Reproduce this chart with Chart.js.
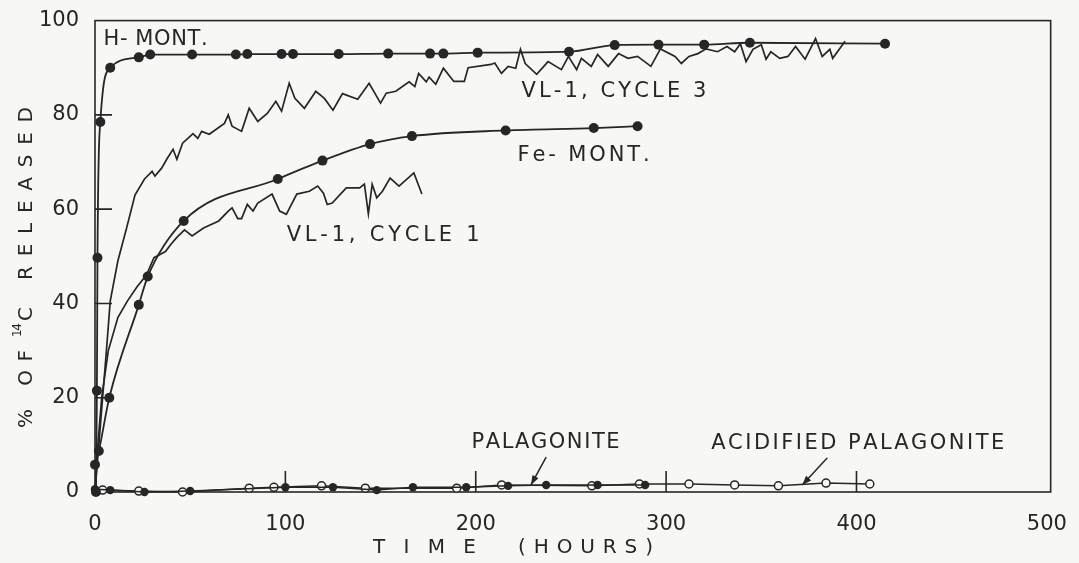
<!DOCTYPE html>
<html>
<head>
<meta charset="utf-8">
<script src="https://cdn.jsdelivr.net/npm/chart.js@4/dist/chart.umd.min.js"></script>
<style>
  html, body { margin: 0; padding: 0; background: #f7f7f5; }
  #wrap { width: 1079px; height: 563px; }
</style>
</head>
<body>
<div id="wrap"><canvas id="chart"></canvas></div>
<script>
// tick labels
var xTicks = [0, 100, 200, 300, 400, 500];
var yTicks = [0, 20, 40, 60, 80, 100];

// series, [time (hours), % released]
var hMont = [[0.5,0],[1,21.5],[1.3,49.7],[2.8,78.5],[8,90],[23,92.2],[29,92.8],[51,92.8],[74,92.8],[80,92.9],[98,92.9],[104,92.9],[128,92.9],[154,93],[176,93],[183,93],[201,93.2],[249,93.4],[273,94.8],[296,94.9],[320,94.9],[344,95.3],[415,95.1]];
var feMont = [[0,5.8],[2,8.7],[7.5,20],[23,39.7],[27.7,45.7],[46.6,57.5],[96,66.4],[119.5,70.3],[144.5,73.8],[166.5,75.5],[215.7,76.7],[262,77.2],[285,77.6]];
var vlCycle3 = [[0,0],[2,10],[4,20],[6,30],[8,40.5],[12,49],[16.6,56],[21,63],[26,66.4],[30,68],[31.5,67],[35,68.7],[38,70.8],[41,72.7],[43,70.6],[46,74],[51.5,76],[54,75],[56,76.5],[60,75.9],[68,78.2],[70,80],[72,77.6],[77,76.5],[81,81.4],[85.5,78.6],[90.5,80.3],[95,82.9],[98,80.8],[102,86.7],[105,83.5],[110,81.4],[116,85],[120.5,83.5],[125,81],[130,84.5],[138,83.3],[144,86.7],[150,82.5],[153,84.6],[158,85],[165,87],[168,86],[170,88.8],[174,87],[175.5,88],[179,86.5],[183,89.9],[188.5,87.1],[194,87.1],[196,90],[208,90.7],[210,91],[213.5,88.8],[217,90.3],[221,89.9],[223.5,93.9],[226,90.9],[232,88.6],[238,91.3],[245,89.6],[248.7,92.4],[253,89.6],[255.5,92],[260.7,90.3],[264,92.8],[269.6,90.3],[275,93],[280,92],[285,92.4],[292,90.3],[297,94],[304.7,92.4],[308,90.9],[312,92.4],[316.7,93],[321,94],[327,93.4],[332,94.5],[336,93.4],[339,95.1],[342,91.3],[345.6,93.9],[350,94.9],[352.5,91.8],[355,93.4],[359.7,92],[364,92.4],[368,94.5],[373,91.8],[378.5,96.2],[382,92.4],[386,93.9],[387.5,92],[394,95.6]];
var vlCycle1 = [[0,0],[1.5,10],[3.5,20],[7,30],[12,37],[17,40.5],[22,43.5],[27,46],[31,49.7],[37,51],[40,52.6],[43,54],[47,55.6],[51,54.3],[57,56],[65,57.5],[70,59.6],[72,60.3],[75,58],[77,58],[80,61],[83,59.6],[85.5,61.3],[93,63.2],[97,59.6],[100.5,58.9],[106,63.2],[112.6,63.8],[117,64.9],[120,63.4],[122,61],[124.6,61.3],[132,64.5],[139,64.5],[141.5,65.3],[143.6,59],[145.6,65.3],[148,62.4],[151,63.8],[155,66.6],[159.7,64.9],[167.5,67.7],[171.7,63.2]];
var palagonite = [[0,0.6],[8,0.4],[26,0],[50,0.2],[100,1],[125,1],[148,0.4],[167,1],[195,1],[217,1.3],[237,1.5],[264,1.5],[289,1.5]];
var acidPalagonite = [[4,0.4],[23,0.2],[46,0],[81,0.8],[94,1],[119,1.3],[142,0.8],[190,0.8],[213.6,1.5],[261,1.3],[286,1.7],[312,1.7],[336,1.5],[359,1.3],[384,1.9],[407,1.7]];

// curve labels and arrows (data units)
var notes = [
  {text: 'H- MONT.', t: 4.5, v: 96, w: 104},
  {text: 'VL-1, CYCLE 3', t: 224, v: 85, w: 185},
  {text: 'Fe- MONT.', t: 222, v: 71.4, w: 132},
  {text: 'VL-1, CYCLE 1', t: 100.7, v: 54.3, w: 193},
  {text: 'PALAGONITE', t: 197.8, v: 10.5, w: 148},
  {text: 'ACIDIFIED PALAGONITE', t: 323.7, v: 10.3, w: 293}
];
var arrows = [
  {from: [237, 7.4], to: [229, 1.5]},
  {from: [384.6, 7.2], to: [371.5, 1.5]}
];

var ink = '#262626';
var paper = '#f7f7f5';
var fontFam = '"DejaVu Sans", sans-serif';

function pts(a) { return a.map(function(p){ return {x: p[0], y: p[1]}; }); }

// draw text spread to a given width
function drawFitted(ctx, text, x, y, width) {
  var chars = text.split('');
  var ws = chars.map(function(c){ return ctx.measureText(c).width; });
  var total = ws.reduce(function(a, b){ return a + b; }, 0);
  var gap = chars.length > 1 ? (width - total) / (chars.length - 1) : 0;
  var cx = x;
  chars.forEach(function(c, i){ ctx.fillText(c, cx, y); cx += ws[i] + gap; });
}

var decor = {
  id: 'decor',
  beforeDraw: function(chart) {
    var ctx = chart.ctx;
    ctx.save();
    ctx.fillStyle = paper;
    ctx.fillRect(0, 0, chart.width, chart.height);
    ctx.restore();
  },
  beforeDatasetsDraw: function(chart) {
    var ctx = chart.ctx, a = chart.chartArea;
    var xs = chart.scales.x, ys = chart.scales.y;
    ctx.save();
    ctx.strokeStyle = ink;
    ctx.lineWidth = 1.6;
    ctx.strokeRect(a.left, a.top, a.right - a.left, a.bottom - a.top);
    ctx.beginPath();
    yTicks.slice(1, -1).forEach(function(v){
      var py = ys.getPixelForValue(v);
      ctx.moveTo(a.left, py); ctx.lineTo(a.left + 17, py);
    });
    xTicks.slice(1, -1).forEach(function(v){
      var px = xs.getPixelForValue(v);
      ctx.moveTo(px, a.bottom); ctx.lineTo(px, a.bottom - 21);
    });
    ctx.stroke();
    ctx.restore();
  },
  afterDatasetsDraw: function(chart) {
    var ctx = chart.ctx;
    var xs = chart.scales.x, ys = chart.scales.y;
    ctx.save();
    ctx.fillStyle = ink;
    ctx.strokeStyle = ink;
    ctx.font = '21px ' + fontFam;
    ctx.textBaseline = 'middle';
    notes.forEach(function(n){
      drawFitted(ctx, n.text, xs.getPixelForValue(n.t), ys.getPixelForValue(n.v), n.w);
    });
    ctx.lineWidth = 1.5;
    arrows.forEach(function(ar){
      var x1 = xs.getPixelForValue(ar.from[0]), y1 = ys.getPixelForValue(ar.from[1]);
      var x2 = xs.getPixelForValue(ar.to[0]), y2 = ys.getPixelForValue(ar.to[1]);
      var ang = Math.atan2(y2 - y1, x2 - x1);
      ctx.beginPath(); ctx.moveTo(x1, y1); ctx.lineTo(x2, y2); ctx.stroke();
      ctx.beginPath();
      ctx.moveTo(x2, y2);
      ctx.lineTo(x2 - 10 * Math.cos(ang - 0.35), y2 - 10 * Math.sin(ang - 0.35));
      ctx.lineTo(x2 - 10 * Math.cos(ang + 0.35), y2 - 10 * Math.sin(ang + 0.35));
      ctx.closePath(); ctx.fill();
    });

    // axis titles
    ctx.font = '20px ' + fontFam;
    drawFitted(ctx, 'TIME', 373, 548, 103);
    drawFitted(ctx, '(HOURS)', 518, 548, 135);

    ctx.translate(27, 428);
    ctx.rotate(-Math.PI / 2);
    drawFitted(ctx, '% OF', 0, 0, 78);
    ctx.font = '12px ' + fontFam;
    drawFitted(ctx, '14', 91, -9, 14);
    ctx.font = '20px ' + fontFam;
    ctx.fillText('C', 107, 0);
    drawFitted(ctx, 'RELEASED', 148, 0, 173);
    ctx.restore();
  }
};

function series(data, opts) {
  return Object.assign({
    data: pts(data),
    showLine: true,
    borderColor: ink,
    backgroundColor: ink,
    borderWidth: 1.8,
    pointRadius: 0,
    pointBorderWidth: 0,
    pointBackgroundColor: ink,
    clip: false
  }, opts);
}

new Chart(document.getElementById('chart'), {
  type: 'scatter',
  data: {
    datasets: [
      series(vlCycle3, {borderWidth: 1.7}),
      series(vlCycle1, {borderWidth: 1.7}),
      series(hMont, {pointRadius: 5, cubicInterpolationMode: 'monotone'}),
      series(feMont, {pointRadius: 5, cubicInterpolationMode: 'monotone'}),
      series(palagonite, {pointRadius: 4.2, borderWidth: 1.5}),
      series(acidPalagonite, {pointRadius: 4, borderWidth: 1.5, pointBorderWidth: 1.5, pointBorderColor: ink, pointBackgroundColor: paper})
    ]
  },
  options: {
    responsive: true,
    maintainAspectRatio: false,
    animation: false,
    events: [],
    layout: { padding: { top: 19, right: 27, left: 0, bottom: 0 } },
    plugins: { legend: { display: false }, tooltip: { enabled: false } },
    scales: {
      x: {
        type: 'linear', min: 0, max: 502,
        afterBuildTicks: function(s){ s.ticks = xTicks.map(function(v){ return {value: v}; }); },
        afterFit: function(s){ s.height = 71; },
        grid: { display: false },
        border: { display: false },
        ticks: { color: ink, padding: 12, maxRotation: 0, font: { family: fontFam, size: 21 } }
      },
      y: {
        min: 0, max: 100,
        afterBuildTicks: function(s){ s.ticks = yTicks.map(function(v){ return {value: v}; }); },
        afterFit: function(s){ s.width = 95; },
        grid: { display: false },
        border: { display: false },
        ticks: { color: ink, padding: 8, font: { family: fontFam, size: 21 } }
      }
    }
  },
  plugins: [decor]
});
</script>
</body>
</html>
